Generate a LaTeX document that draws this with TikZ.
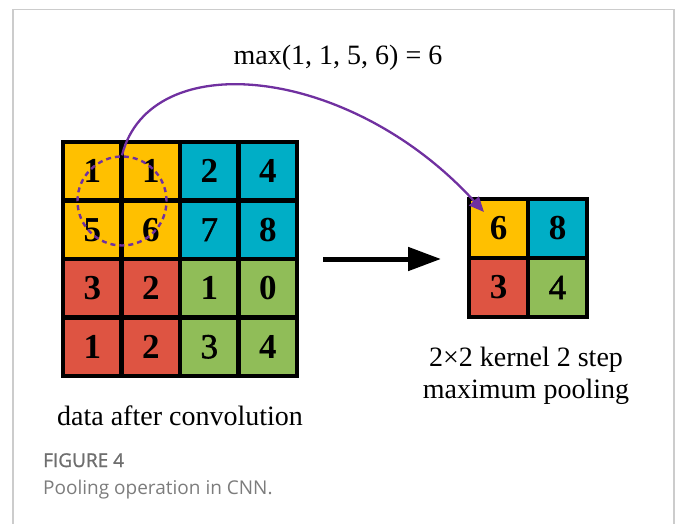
\documentclass[tikz,border=0pt]{standalone}
\usepackage{fontspec}
\setmainfont{Liberation Serif}
\newfontfamily\semidigit[FakeBold=1.6]{Liberation Serif}
\newfontfamily\capfont{Open Sans}
\newfontfamily\capfontsemi[FakeBold=1.2]{Open Sans}
\usetikzlibrary{arrows.meta}

\definecolor{cellorange}{RGB}{255,192,0}
\definecolor{cellblue}{RGB}{0,174,198}
\definecolor{cellred}{RGB}{222,84,66}
\definecolor{cellgreen}{RGB}{144,189,88}
\definecolor{poolpurple}{RGB}{112,48,160}
\definecolor{framegray}{RGB}{204,204,204}
\definecolor{capgray}{RGB}{110,110,110}

\tikzset{
  cell/.style={draw=black, line width=4.5pt, inner sep=0pt, minimum width=58.5pt,
    minimum height=58.5pt, font=\fontsize{35}{38}\selectfont},
  smallcell/.style={cell, minimum width=59pt, minimum height=59pt},
  label/.style={font=\fontsize{28}{33}\selectfont, inner sep=0pt},
}

\begin{document}
\begin{tikzpicture}[x=1pt, y=1pt]
\useasboundingbox (0,0) rectangle (682,-524);

% card frame
\draw[framegray, line width=1.3pt] (13,-524) |- (674,-9.5) -- (674,-524);

% 4x4 feature map (value, colour, weight)
\foreach \r/\c/\v/\col/\wt in {
  0/0/1/cellorange/\bfseries, 0/1/1/cellorange/\bfseries, 0/2/2/cellblue/\bfseries, 0/3/4/cellblue/\bfseries,
  1/0/5/cellorange/\bfseries, 1/1/6/cellorange/\bfseries, 1/2/7/cellblue/\semidigit, 1/3/8/cellblue/\bfseries,
  2/0/3/cellred/\bfseries,    2/1/2/cellred/\bfseries,    2/2/1/cellgreen/\bfseries, 2/3/0/cellgreen/\bfseries,
  3/0/1/cellred/\bfseries,    3/1/2/cellred/\bfseries,    3/2/3/cellgreen/\semidigit, 3/3/4/cellgreen/\bfseries}
  \node[cell, fill=\col] (a\r\c) at ({63+58.5*(\c+0.5)}, {-142-58.5*(\r+0.5)}) {\wt\v};

% 2x2 pooled map
\foreach \r/\c/\v/\col/\wt in {
  0/0/6/cellorange/\bfseries, 0/1/8/cellblue/\bfseries,
  1/0/3/cellred/\bfseries,    1/1/4/cellgreen/\semidigit}
  \node[smallcell, fill=\col] (b\r\c) at ({469+59*(\c+0.5)}, {-199-59*(\r+0.5)}) {\wt\v};

% pooling window
\node[draw=poolpurple, line width=2.4pt, dash pattern=on 5pt off 4pt,
  circle, minimum size=89pt, inner sep=0pt] (win) at (122,-201) {};

% arrow from window to result
\coordinate (tip) at (484,-212);
\draw[poolpurple, line width=2.3pt, -{Triangle[length=15pt, width=13pt]}]
  (win.north) .. controls (150,-45) and (350,-65) .. (tip);

% main arrow
\coordinate (arrs) at (323,-259);
\coordinate (arre) at (441,-259);
\draw[black, line width=5pt, -{Triangle[length=33pt, width=23pt]}] (arrs) -- (arre);

% labels
\node[label, anchor=base] (title) at (338,-65) {max(1, 1, 5, 6) = 6};
\node[label, anchor=base] (lconv) at (180,-425) {data after convolution};
\node[label, anchor=base] (lpool1) at (526,-366) {2×2 kernel 2 step};
\node[label, anchor=base] (lpool2) at (526,-398) {maximum pooling};

% caption
\node[anchor=base west, inner sep=0pt, text=capgray, font=\capfontsemi\fontsize{19}{22}\selectfont]
  (fig) at (43,-467) {FIGURE 4};
\node[anchor=base west, inner sep=0pt, text=capgray!90, font=\capfont\fontsize{19}{22}\selectfont]
  (cap) at (43,-494) {Pooling operation in CNN.};
\end{tikzpicture}
\end{document}
